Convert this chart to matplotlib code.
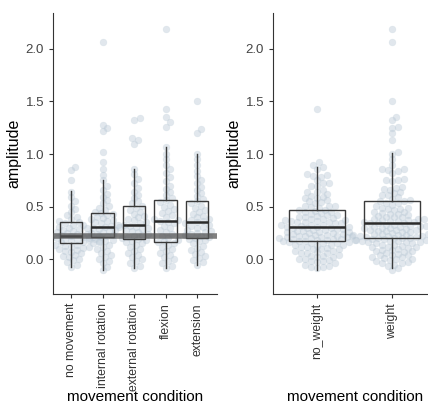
import matplotlib
matplotlib.use("Agg")
import matplotlib.pyplot as plt

plt.rcParams['font.family'] = ['Liberation Sans', 'DejaVu Sans']

cats_left = ["no movement", "internal rotation", "external rotation", "flexion", "extension"]
cats_right = ["no_weight", "weight"]

# box statistics: q1, median, q3, lower whisker, upper whisker
left_q1 = [0.15, 0.21, 0.19, 0.16, 0.20]
left_med = [0.22, 0.31, 0.33, 0.36, 0.35]
left_q3 = [0.35, 0.44, 0.51, 0.56, 0.55]
left_lo = [-0.07, -0.10, -0.08, -0.08, -0.05]
left_hi = [0.65, 0.75, 0.86, 1.07, 1.00]
right_q1 = [0.17, 0.20]
right_med = [0.31, 0.34]
right_q3 = [0.47, 0.55]
right_lo = [-0.10, -0.08]
right_hi = [0.88, 1.01]
ref_line = 0.22

no_movement = [-0.07,-0.05,-0.03,-0.01,0.0,0.02,0.03,0.04,0.06,0.07,0.08,0.09,0.10,0.11,0.12,0.12,0.13,0.14,0.14,0.15,0.15,0.16,0.16,0.17,0.17,0.18,0.18,0.19,0.19,0.20,0.20,0.21,0.21,0.22,0.22,0.22,0.23,0.23,0.24,0.24,0.25,0.26,0.27,0.28,0.29,0.30,0.31,0.33,0.34,0.35,0.36,0.38,0.40,0.42,0.45,0.48,0.51,0.55,0.59,0.64,0.75,0.85,0.88]
internal_rotation = [-0.10,-0.07,-0.04,-0.02,0.0,0.02,0.04,0.06,0.08,0.10,0.12,0.14,0.16,0.17,0.18,0.19,0.20,0.21,0.22,0.23,0.24,0.25,0.26,0.27,0.28,0.29,0.30,0.30,0.31,0.31,0.32,0.33,0.34,0.35,0.36,0.37,0.38,0.39,0.40,0.42,0.43,0.44,0.45,0.47,0.49,0.51,0.53,0.56,0.59,0.62,0.66,0.70,0.75,0.80,0.86,0.92,1.02,1.22,1.25,1.28,2.06]
external_rotation = [-0.08,-0.06,-0.04,-0.02,0.0,0.02,0.04,0.06,0.08,0.10,0.12,0.14,0.15,0.16,0.17,0.18,0.19,0.20,0.21,0.22,0.23,0.24,0.26,0.27,0.28,0.29,0.30,0.31,0.32,0.33,0.33,0.34,0.35,0.37,0.38,0.40,0.41,0.43,0.45,0.47,0.49,0.51,0.53,0.55,0.58,0.61,0.64,0.68,0.72,0.76,0.81,0.86,1.10,1.13,1.15,1.32,1.34]
flexion = [-0.08,-0.06,-0.04,-0.02,0.0,0.02,0.04,0.06,0.08,0.10,0.12,0.14,0.15,0.16,0.17,0.18,0.20,0.22,0.24,0.26,0.28,0.30,0.32,0.34,0.35,0.36,0.37,0.38,0.40,0.42,0.44,0.46,0.48,0.50,0.52,0.54,0.56,0.58,0.61,0.64,0.67,0.70,0.74,0.78,0.82,0.86,0.90,0.95,1.00,1.07,1.26,1.30,1.35,1.43,2.19]
extension = [-0.05,-0.03,-0.01,0.01,0.03,0.05,0.07,0.09,0.11,0.13,0.15,0.17,0.18,0.19,0.20,0.21,0.22,0.23,0.24,0.25,0.26,0.27,0.28,0.30,0.31,0.32,0.33,0.34,0.35,0.36,0.37,0.38,0.40,0.41,0.43,0.45,0.47,0.49,0.51,0.53,0.55,0.57,0.60,0.63,0.66,0.69,0.72,0.75,0.79,0.84,0.90,0.95,1.00,1.20,1.24,1.50]

left_data = [no_movement, internal_rotation, external_rotation, flexion, extension]
allv = no_movement + internal_rotation + external_rotation + flexion + extension
no_weight = sorted(v for v in allv[0::2] if v < 0.95 or v > 1.4)
weight = sorted(allv[1::2])
right_data = [no_weight, weight]

W, H = 428, 405
fig = plt.figure(figsize=(W/100, H/100), dpi=100)
AX_B, AX_T = 294, 13
ax1 = fig.add_axes([53/W, 1-AX_B/H, 164/W, (AX_B-AX_T)/H])
ax2 = fig.add_axes([273/W, 1-AX_B/H, 155/W, (AX_B-AX_T)/H])
ylim = (-0.33, 2.34)

def swarm(vals, pos, xlim, axw, axh, d):
    pxx = axw/(xlim[1]-xlim[0]); pxy = axh/(ylim[1]-ylim[0])
    placed = []; xs = []
    cands = [0.0]
    for k in range(1, 60):
        cands += [k*d*0.4, -k*d*0.4]
    for v in vals:
        y = v*pxy
        best = 0.0
        for c in cands:
            if all((c-px)**2 + (y-py)**2 >= d*d for px, py in placed):
                best = c; break
        placed.append((best, y)); xs.append(pos + best/pxx)
    return xs

def panel(ax, data, cats, xlim, axw, width, q1, med, q3, lo, hi):
    ax.set_xlim(*xlim); ax.set_ylim(*ylim)
    for i, vals in enumerate(data):
        xs = swarm(sorted(vals), i+1, xlim, axw, AX_B-AX_T, d=5.0)
        ax.scatter(xs, vals, s=24, color="#b4c4d2", alpha=0.4, edgecolors="#c8d4de", linewidths=0.4, zorder=1)
    stats = [dict(q1=q1[i], med=med[i], q3=q3[i], whislo=lo[i], whishi=hi[i], fliers=[]) for i in range(len(cats))]
    ax.bxp(stats, positions=range(1, len(cats)+1), widths=width, showfliers=False,
           patch_artist=True, manage_ticks=False, showcaps=False,
           boxprops=dict(facecolor="none", edgecolor="#3a3a3a", linewidth=1),
           medianprops=dict(color="#2a2a2a", linewidth=1.8),
           whiskerprops=dict(color="#3a3a3a", linewidth=1))
    ax.set_xticks(range(1, len(cats)+1))
    ax.set_xticklabels(cats, rotation=90, fontsize=8.8, color="#333333")
    ax.set_yticks([0.0, 0.5, 1.0, 1.5, 2.0])
    ax.set_yticklabels(["0.0", "0.5", "1.0", "1.5", "2.0"], fontsize=9.5, color="#444444")
    for s in ["top", "right"]:
        ax.spines[s].set_visible(False)
    ax.spines["left"].set_color("#333333"); ax.spines["bottom"].set_color("#333333")
    ax.tick_params(color="#333333", length=3)
    ax.set_ylabel("amplitude", fontsize=11.5, labelpad=3)

panel(ax1, left_data, cats_left, (0.43, 5.63), 164, 0.72,
      left_q1, left_med, left_q3, left_lo, left_hi)
ax1.axhline(ref_line, color="#555555", linewidth=4, alpha=0.75, zorder=3)
panel(ax2, right_data, cats_right, (0.41, 2.48), 155, 0.75,
      right_q1, right_med, right_q3, right_lo, right_hi)
fig.text(135/W, 1-397/H, "movement condition", ha="center", va="center", fontsize=11)
fig.text(355/W, 1-397/H, "movement condition", ha="center", va="center", fontsize=11)
fig.savefig("out.png", dpi=100)
